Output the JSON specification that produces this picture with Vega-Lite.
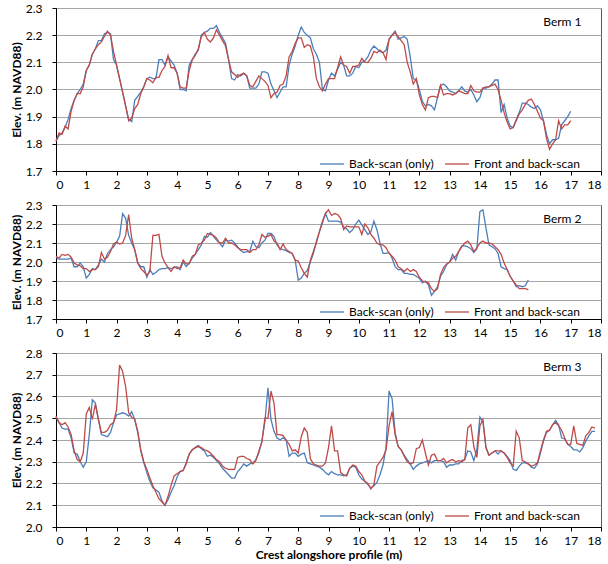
{
"$schema": "https://vega.github.io/schema/vega-lite/v6.json",
"padding": {"left": 9, "top": 1, "right": 0, "bottom": 0},
"background": "white",
"config": {
  "font": "Lato",
  "view": {"stroke": "#595959", "strokeWidth": 1},
  "axis": {"labelFont": "Lato", "labelFontSize": 12, "labelColor": "#000", "titleFont": "Lato", "titleFontSize": 12, "titleFontWeight": "bold", "titleColor": "#000", "domainColor": "#000", "tickColor": "#000", "tickSize": 4, "gridColor": "#a6a6a6", "gridWidth": 1},
  "axisX": {"grid": false, "labelPadding": 4, "titlePadding": 3},
  "axisY": {"labelPadding": 10, "titlePadding": 2},
  "legend": {"orient": "none", "direction": "horizontal", "title": null, "symbolType": "stroke", "symbolSize": 576, "symbolStrokeWidth": 1.5, "labelFont": "Lato", "labelFontSize": 12, "labelColor": "#000", "columnPadding": 8, "labelOffset": 4},
  "title": {"anchor": "end", "font": "Lato", "fontSize": 12, "fontWeight": 400, "color": "#000", "offset": -27, "dx": -20},
  "line": {"strokeWidth": 1.3}
},
"datasets": {
"b1": [{"x":0,"y":1.81},{"x":0.1,"y":1.83},{"x":0.2,"y":1.84},{"x":0.3,"y":1.86},{"x":0.4,"y":1.89},{"x":0.5,"y":1.93},{"x":0.6,"y":1.96},{"x":0.7,"y":1.985},{"x":0.8,"y":2.0},{"x":0.9,"y":2.02},{"x":1.0,"y":2.07},{"x":1.1,"y":2.09},{"x":1.2,"y":2.13},{"x":1.3,"y":2.15},{"x":1.4,"y":2.18},{"x":1.5,"y":2.18},{"x":1.6,"y":2.205},{"x":1.7,"y":2.21},{"x":1.8,"y":2.205},{"x":1.9,"y":2.11},{"x":2.0,"y":2.09},{"x":2.1,"y":2.04},{"x":2.2,"y":1.99},{"x":2.3,"y":1.94},{"x":2.4,"y":1.89},{"x":2.5,"y":1.882},{"x":2.6,"y":1.96},{"x":2.7,"y":1.975},{"x":2.8,"y":1.99},{"x":2.9,"y":2.01},{"x":3.0,"y":2.04},{"x":3.1,"y":2.045},{"x":3.2,"y":2.04},{"x":3.3,"y":2.04},{"x":3.4,"y":2.11},{"x":3.5,"y":2.11},{"x":3.6,"y":2.09},{"x":3.7,"y":2.12},{"x":3.8,"y":2.105},{"x":3.9,"y":2.09},{"x":4.0,"y":2.06},{"x":4.1,"y":2.0},{"x":4.2,"y":2.0},{"x":4.3,"y":1.995},{"x":4.4,"y":2.09},{"x":4.5,"y":2.11},{"x":4.6,"y":2.13},{"x":4.7,"y":2.145},{"x":4.8,"y":2.2},{"x":4.9,"y":2.21},{"x":5.0,"y":2.215},{"x":5.1,"y":2.225},{"x":5.2,"y":2.225},{"x":5.3,"y":2.235},{"x":5.4,"y":2.21},{"x":5.5,"y":2.19},{"x":5.6,"y":2.17},{"x":5.7,"y":2.11},{"x":5.8,"y":2.04},{"x":5.9,"y":2.035},{"x":6.0,"y":2.055},{"x":6.1,"y":2.05},{"x":6.2,"y":2.06},{"x":6.3,"y":2.05},{"x":6.4,"y":2.005},{"x":6.5,"y":2.005},{"x":6.6,"y":2.005},{"x":6.7,"y":2.02},{"x":6.8,"y":2.065},{"x":6.9,"y":2.065},{"x":7.0,"y":2.06},{"x":7.1,"y":2.02},{"x":7.2,"y":1.995},{"x":7.3,"y":1.97},{"x":7.4,"y":1.99},{"x":7.5,"y":2.01},{"x":7.6,"y":2.01},{"x":7.7,"y":2.09},{"x":7.8,"y":2.13},{"x":7.9,"y":2.16},{"x":8.0,"y":2.2},{"x":8.1,"y":2.23},{"x":8.2,"y":2.21},{"x":8.3,"y":2.2},{"x":8.4,"y":2.19},{"x":8.5,"y":2.15},{"x":8.6,"y":2.13},{"x":8.7,"y":2.1},{"x":8.8,"y":2.0},{"x":8.9,"y":1.995},{"x":9.0,"y":2.035},{"x":9.1,"y":2.06},{"x":9.2,"y":2.05},{"x":9.3,"y":2.075},{"x":9.4,"y":2.1},{"x":9.5,"y":2.09},{"x":9.6,"y":2.05},{"x":9.7,"y":2.05},{"x":9.8,"y":2.06},{"x":9.9,"y":2.085},{"x":10.0,"y":2.08},{"x":10.1,"y":2.1},{"x":10.2,"y":2.105},{"x":10.3,"y":2.12},{"x":10.4,"y":2.145},{"x":10.5,"y":2.16},{"x":10.6,"y":2.15},{"x":10.7,"y":2.14},{"x":10.8,"y":2.135},{"x":10.9,"y":2.145},{"x":11.0,"y":2.185},{"x":11.1,"y":2.2},{"x":11.2,"y":2.215},{"x":11.3,"y":2.185},{"x":11.4,"y":2.19},{"x":11.5,"y":2.195},{"x":11.6,"y":2.185},{"x":11.7,"y":2.12},{"x":11.8,"y":2.04},{"x":11.9,"y":2.035},{"x":12.0,"y":2.0},{"x":12.1,"y":1.955},{"x":12.2,"y":1.94},{"x":12.3,"y":1.945},{"x":12.4,"y":1.94},{"x":12.5,"y":1.925},{"x":12.6,"y":1.97},{"x":12.7,"y":2.015},{"x":12.8,"y":2.02},{"x":12.9,"y":2.01},{"x":13.0,"y":1.995},{"x":13.1,"y":1.99},{"x":13.2,"y":1.985},{"x":13.3,"y":1.995},{"x":13.4,"y":2.01},{"x":13.5,"y":1.995},{"x":13.6,"y":1.99},{"x":13.7,"y":2.0},{"x":13.8,"y":1.98},{"x":13.9,"y":1.955},{"x":14.0,"y":1.97},{"x":14.1,"y":2.005},{"x":14.2,"y":2.005},{"x":14.3,"y":2.01},{"x":14.4,"y":2.02},{"x":14.5,"y":2.035},{"x":14.6,"y":2.035},{"x":14.7,"y":1.915},{"x":14.8,"y":1.945},{"x":14.9,"y":1.895},{"x":15.0,"y":1.865},{"x":15.1,"y":1.86},{"x":15.2,"y":1.89},{"x":15.3,"y":1.915},{"x":15.4,"y":1.95},{"x":15.5,"y":1.95},{"x":15.6,"y":1.945},{"x":15.7,"y":1.935},{"x":15.8,"y":1.93},{"x":15.9,"y":1.94},{"x":16.0,"y":1.925},{"x":16.1,"y":1.885},{"x":16.2,"y":1.835},{"x":16.3,"y":1.8},{"x":16.4,"y":1.815},{"x":16.5,"y":1.815},{"x":16.6,"y":1.82},{"x":16.7,"y":1.87},{"x":16.8,"y":1.885},{"x":16.9,"y":1.9},{"x":17.0,"y":1.92}],
"f1": [{"x":0,"y":1.81},{"x":0.1,"y":1.84},{"x":0.2,"y":1.835},{"x":0.3,"y":1.865},{"x":0.4,"y":1.855},{"x":0.5,"y":1.92},{"x":0.6,"y":1.96},{"x":0.7,"y":1.985},{"x":0.8,"y":1.985},{"x":0.9,"y":2.01},{"x":1.0,"y":2.07},{"x":1.1,"y":2.09},{"x":1.2,"y":2.13},{"x":1.3,"y":2.15},{"x":1.4,"y":2.165},{"x":1.5,"y":2.175},{"x":1.6,"y":2.195},{"x":1.7,"y":2.215},{"x":1.8,"y":2.2},{"x":1.9,"y":2.14},{"x":2.0,"y":2.09},{"x":2.1,"y":2.04},{"x":2.2,"y":1.99},{"x":2.3,"y":1.94},{"x":2.4,"y":1.885},{"x":2.5,"y":1.895},{"x":2.6,"y":1.93},{"x":2.7,"y":1.945},{"x":2.8,"y":1.985},{"x":2.9,"y":2.01},{"x":3.0,"y":2.04},{"x":3.1,"y":2.035},{"x":3.2,"y":2.025},{"x":3.3,"y":2.045},{"x":3.4,"y":2.045},{"x":3.5,"y":2.07},{"x":3.6,"y":2.085},{"x":3.7,"y":2.125},{"x":3.8,"y":2.08},{"x":3.9,"y":2.08},{"x":4.0,"y":2.06},{"x":4.1,"y":2.01},{"x":4.2,"y":2.005},{"x":4.3,"y":2.005},{"x":4.4,"y":2.07},{"x":4.5,"y":2.11},{"x":4.6,"y":2.125},{"x":4.7,"y":2.15},{"x":4.8,"y":2.195},{"x":4.9,"y":2.21},{"x":5.0,"y":2.185},{"x":5.1,"y":2.175},{"x":5.2,"y":2.19},{"x":5.3,"y":2.22},{"x":5.4,"y":2.2},{"x":5.5,"y":2.18},{"x":5.6,"y":2.16},{"x":5.7,"y":2.11},{"x":5.8,"y":2.065},{"x":5.9,"y":2.055},{"x":6.0,"y":2.045},{"x":6.1,"y":2.055},{"x":6.2,"y":2.06},{"x":6.3,"y":2.05},{"x":6.4,"y":2.015},{"x":6.5,"y":2.01},{"x":6.6,"y":2.03},{"x":6.7,"y":2.05},{"x":6.8,"y":2.04},{"x":6.9,"y":2.03},{"x":7.0,"y":2.015},{"x":7.1,"y":1.97},{"x":7.2,"y":1.985},{"x":7.3,"y":1.99},{"x":7.4,"y":2.015},{"x":7.5,"y":2.02},{"x":7.6,"y":2.05},{"x":7.7,"y":2.12},{"x":7.8,"y":2.14},{"x":7.9,"y":2.17},{"x":8.0,"y":2.19},{"x":8.1,"y":2.19},{"x":8.2,"y":2.155},{"x":8.3,"y":2.165},{"x":8.4,"y":2.16},{"x":8.5,"y":2.12},{"x":8.6,"y":2.04},{"x":8.7,"y":2.01},{"x":8.8,"y":1.995},{"x":8.9,"y":2.02},{"x":9.0,"y":2.04},{"x":9.1,"y":2.04},{"x":9.2,"y":2.04},{"x":9.3,"y":2.08},{"x":9.4,"y":2.12},{"x":9.5,"y":2.09},{"x":9.6,"y":2.085},{"x":9.7,"y":2.06},{"x":9.8,"y":2.085},{"x":9.9,"y":2.085},{"x":10.0,"y":2.09},{"x":10.1,"y":2.115},{"x":10.2,"y":2.1},{"x":10.3,"y":2.1},{"x":10.4,"y":2.115},{"x":10.5,"y":2.14},{"x":10.6,"y":2.135},{"x":10.7,"y":2.145},{"x":10.8,"y":2.135},{"x":10.9,"y":2.11},{"x":11.0,"y":2.185},{"x":11.1,"y":2.2},{"x":11.2,"y":2.21},{"x":11.3,"y":2.195},{"x":11.4,"y":2.18},{"x":11.5,"y":2.165},{"x":11.6,"y":2.1},{"x":11.7,"y":2.065},{"x":11.8,"y":2.02},{"x":11.9,"y":2.04},{"x":12.0,"y":1.98},{"x":12.1,"y":1.945},{"x":12.2,"y":1.925},{"x":12.3,"y":1.97},{"x":12.4,"y":1.975},{"x":12.5,"y":1.975},{"x":12.6,"y":1.97},{"x":12.7,"y":2.015},{"x":12.8,"y":1.98},{"x":12.9,"y":1.985},{"x":13.0,"y":1.985},{"x":13.1,"y":1.98},{"x":13.2,"y":1.985},{"x":13.3,"y":1.995},{"x":13.4,"y":1.99},{"x":13.5,"y":1.985},{"x":13.6,"y":1.985},{"x":13.7,"y":2.015},{"x":13.8,"y":1.995},{"x":13.9,"y":1.99},{"x":14.0,"y":1.99},{"x":14.1,"y":2.005},{"x":14.2,"y":2.01},{"x":14.3,"y":2.01},{"x":14.4,"y":2.015},{"x":14.5,"y":2.02},{"x":14.6,"y":2.0},{"x":14.7,"y":1.96},{"x":14.8,"y":1.915},{"x":14.9,"y":1.88},{"x":15.0,"y":1.855},{"x":15.1,"y":1.86},{"x":15.2,"y":1.885},{"x":15.3,"y":1.91},{"x":15.4,"y":1.925},{"x":15.5,"y":1.945},{"x":15.6,"y":1.96},{"x":15.7,"y":1.965},{"x":15.8,"y":1.945},{"x":15.9,"y":1.92},{"x":16.0,"y":1.895},{"x":16.1,"y":1.885},{"x":16.2,"y":1.82},{"x":16.3,"y":1.78},{"x":16.4,"y":1.8},{"x":16.5,"y":1.815},{"x":16.6,"y":1.885},{"x":16.7,"y":1.855},{"x":16.8,"y":1.87},{"x":16.9,"y":1.87},{"x":17.0,"y":1.885}],
"b2": [{"x":0,"y":2.025},{"x":0.1,"y":2.015},{"x":0.2,"y":2.015},{"x":0.3,"y":2.015},{"x":0.4,"y":2.015},{"x":0.5,"y":2.02},{"x":0.6,"y":1.975},{"x":0.7,"y":1.975},{"x":0.8,"y":1.995},{"x":0.9,"y":1.975},{"x":1.0,"y":1.915},{"x":1.1,"y":1.935},{"x":1.2,"y":1.965},{"x":1.3,"y":1.96},{"x":1.4,"y":1.985},{"x":1.5,"y":2.015},{"x":1.6,"y":2.0},{"x":1.7,"y":2.045},{"x":1.8,"y":2.065},{"x":1.9,"y":2.08},{"x":2.0,"y":2.105},{"x":2.1,"y":2.135},{"x":2.2,"y":2.255},{"x":2.3,"y":2.23},{"x":2.4,"y":2.14},{"x":2.5,"y":2.1},{"x":2.6,"y":2.065},{"x":2.7,"y":1.995},{"x":2.8,"y":1.975},{"x":2.9,"y":1.975},{"x":3.0,"y":1.92},{"x":3.1,"y":1.96},{"x":3.2,"y":1.935},{"x":3.3,"y":1.945},{"x":3.4,"y":1.96},{"x":3.5,"y":1.965},{"x":3.6,"y":1.965},{"x":3.7,"y":1.97},{"x":3.8,"y":1.965},{"x":3.9,"y":1.97},{"x":4.0,"y":1.975},{"x":4.1,"y":1.96},{"x":4.2,"y":2.0},{"x":4.3,"y":1.975},{"x":4.4,"y":1.995},{"x":4.5,"y":2.02},{"x":4.6,"y":2.04},{"x":4.7,"y":2.065},{"x":4.8,"y":2.09},{"x":4.9,"y":2.135},{"x":5.0,"y":2.13},{"x":5.1,"y":2.155},{"x":5.2,"y":2.135},{"x":5.3,"y":2.115},{"x":5.4,"y":2.1},{"x":5.5,"y":2.08},{"x":5.6,"y":2.115},{"x":5.7,"y":2.11},{"x":5.8,"y":2.115},{"x":5.9,"y":2.1},{"x":6.0,"y":2.08},{"x":6.1,"y":2.06},{"x":6.2,"y":2.05},{"x":6.3,"y":2.055},{"x":6.4,"y":2.055},{"x":6.5,"y":2.11},{"x":6.6,"y":2.08},{"x":6.7,"y":2.075},{"x":6.8,"y":2.1},{"x":6.9,"y":2.115},{"x":7.0,"y":2.15},{"x":7.1,"y":2.15},{"x":7.2,"y":2.135},{"x":7.3,"y":2.09},{"x":7.4,"y":2.07},{"x":7.5,"y":2.065},{"x":7.6,"y":2.06},{"x":7.7,"y":2.05},{"x":7.8,"y":2.045},{"x":7.9,"y":2.01},{"x":8.0,"y":1.905},{"x":8.1,"y":1.915},{"x":8.2,"y":1.94},{"x":8.3,"y":1.955},{"x":8.4,"y":2.0},{"x":8.5,"y":2.045},{"x":8.6,"y":2.11},{"x":8.7,"y":2.16},{"x":8.8,"y":2.205},{"x":8.9,"y":2.255},{"x":9.0,"y":2.215},{"x":9.1,"y":2.215},{"x":9.2,"y":2.215},{"x":9.3,"y":2.215},{"x":9.4,"y":2.21},{"x":9.5,"y":2.185},{"x":9.6,"y":2.175},{"x":9.7,"y":2.155},{"x":9.8,"y":2.17},{"x":9.9,"y":2.2},{"x":10.0,"y":2.22},{"x":10.1,"y":2.195},{"x":10.2,"y":2.17},{"x":10.3,"y":2.145},{"x":10.4,"y":2.16},{"x":10.5,"y":2.215},{"x":10.6,"y":2.17},{"x":10.7,"y":2.1},{"x":10.8,"y":2.045},{"x":10.9,"y":2.045},{"x":11.0,"y":2.05},{"x":11.1,"y":2.02},{"x":11.2,"y":1.975},{"x":11.3,"y":1.96},{"x":11.4,"y":1.96},{"x":11.5,"y":1.94},{"x":11.6,"y":1.94},{"x":11.7,"y":1.935},{"x":11.8,"y":1.935},{"x":11.9,"y":1.925},{"x":12.0,"y":1.915},{"x":12.1,"y":1.89},{"x":12.2,"y":1.9},{"x":12.3,"y":1.88},{"x":12.4,"y":1.825},{"x":12.5,"y":1.845},{"x":12.6,"y":1.87},{"x":12.7,"y":1.925},{"x":12.8,"y":1.95},{"x":12.9,"y":1.985},{"x":13.0,"y":2.0},{"x":13.1,"y":2.04},{"x":13.2,"y":2.01},{"x":13.3,"y":2.055},{"x":13.4,"y":2.085},{"x":13.5,"y":2.085},{"x":13.6,"y":2.08},{"x":13.7,"y":2.07},{"x":13.8,"y":2.05},{"x":13.9,"y":2.07},{"x":14.0,"y":2.265},{"x":14.1,"y":2.275},{"x":14.2,"y":2.18},{"x":14.3,"y":2.09},{"x":14.4,"y":2.08},{"x":14.5,"y":2.07},{"x":14.6,"y":2.045},{"x":14.7,"y":1.975},{"x":14.8,"y":1.965},{"x":14.9,"y":1.96},{"x":15.0,"y":1.925},{"x":15.1,"y":1.9},{"x":15.2,"y":1.87},{"x":15.3,"y":1.875},{"x":15.4,"y":1.87},{"x":15.5,"y":1.875},{"x":15.6,"y":1.905}],
"f2": [{"x":0,"y":2.03},{"x":0.1,"y":2.02},{"x":0.2,"y":2.04},{"x":0.3,"y":2.035},{"x":0.4,"y":2.04},{"x":0.5,"y":2.025},{"x":0.6,"y":1.995},{"x":0.7,"y":1.985},{"x":0.8,"y":1.98},{"x":0.9,"y":1.965},{"x":1.0,"y":1.965},{"x":1.1,"y":1.95},{"x":1.2,"y":1.96},{"x":1.3,"y":1.96},{"x":1.4,"y":1.975},{"x":1.5,"y":2.05},{"x":1.6,"y":2.015},{"x":1.7,"y":2.025},{"x":1.8,"y":2.055},{"x":1.9,"y":2.095},{"x":2.0,"y":2.105},{"x":2.1,"y":2.095},{"x":2.2,"y":2.1},{"x":2.3,"y":2.14},{"x":2.4,"y":2.25},{"x":2.5,"y":2.125},{"x":2.6,"y":2.065},{"x":2.7,"y":1.995},{"x":2.8,"y":1.965},{"x":2.9,"y":1.95},{"x":3.0,"y":1.93},{"x":3.1,"y":1.95},{"x":3.2,"y":2.14},{"x":3.3,"y":2.14},{"x":3.4,"y":2.145},{"x":3.5,"y":2.03},{"x":3.6,"y":1.995},{"x":3.7,"y":1.97},{"x":3.8,"y":1.95},{"x":3.9,"y":1.975},{"x":4.0,"y":1.965},{"x":4.1,"y":1.97},{"x":4.2,"y":2.01},{"x":4.3,"y":1.99},{"x":4.4,"y":1.99},{"x":4.5,"y":2.03},{"x":4.6,"y":2.04},{"x":4.7,"y":2.09},{"x":4.8,"y":2.1},{"x":4.9,"y":2.115},{"x":5.0,"y":2.15},{"x":5.1,"y":2.145},{"x":5.2,"y":2.14},{"x":5.3,"y":2.125},{"x":5.4,"y":2.1},{"x":5.5,"y":2.1},{"x":5.6,"y":2.125},{"x":5.7,"y":2.1},{"x":5.8,"y":2.1},{"x":5.9,"y":2.09},{"x":6.0,"y":2.075},{"x":6.1,"y":2.065},{"x":6.2,"y":2.065},{"x":6.3,"y":2.065},{"x":6.4,"y":2.05},{"x":6.5,"y":2.065},{"x":6.6,"y":2.065},{"x":6.7,"y":2.09},{"x":6.8,"y":2.145},{"x":6.9,"y":2.13},{"x":7.0,"y":2.135},{"x":7.1,"y":2.145},{"x":7.2,"y":2.11},{"x":7.3,"y":2.1},{"x":7.4,"y":2.065},{"x":7.5,"y":2.095},{"x":7.6,"y":2.065},{"x":7.7,"y":2.055},{"x":7.8,"y":2.045},{"x":7.9,"y":2.01},{"x":8.0,"y":2.005},{"x":8.1,"y":1.97},{"x":8.2,"y":1.94},{"x":8.3,"y":1.92},{"x":8.4,"y":2.01},{"x":8.5,"y":2.055},{"x":8.6,"y":2.1},{"x":8.7,"y":2.16},{"x":8.8,"y":2.215},{"x":8.9,"y":2.255},{"x":9.0,"y":2.275},{"x":9.1,"y":2.245},{"x":9.2,"y":2.255},{"x":9.3,"y":2.25},{"x":9.4,"y":2.23},{"x":9.5,"y":2.17},{"x":9.6,"y":2.19},{"x":9.7,"y":2.185},{"x":9.8,"y":2.185},{"x":9.9,"y":2.185},{"x":10.0,"y":2.185},{"x":10.1,"y":2.145},{"x":10.2,"y":2.2},{"x":10.3,"y":2.18},{"x":10.4,"y":2.145},{"x":10.5,"y":2.125},{"x":10.6,"y":2.1},{"x":10.7,"y":2.09},{"x":10.8,"y":2.09},{"x":10.9,"y":2.075},{"x":11.0,"y":2.045},{"x":11.1,"y":2.03},{"x":11.2,"y":2.01},{"x":11.3,"y":1.975},{"x":11.4,"y":1.965},{"x":11.5,"y":1.95},{"x":11.6,"y":1.965},{"x":11.7,"y":1.95},{"x":11.8,"y":1.96},{"x":11.9,"y":1.95},{"x":12.0,"y":1.92},{"x":12.1,"y":1.9},{"x":12.2,"y":1.895},{"x":12.3,"y":1.89},{"x":12.4,"y":1.86},{"x":12.5,"y":1.845},{"x":12.6,"y":1.86},{"x":12.7,"y":1.935},{"x":12.8,"y":1.97},{"x":12.9,"y":1.99},{"x":13.0,"y":2.0},{"x":13.1,"y":2.02},{"x":13.2,"y":2.03},{"x":13.3,"y":2.055},{"x":13.4,"y":2.08},{"x":13.5,"y":2.1},{"x":13.6,"y":2.11},{"x":13.7,"y":2.09},{"x":13.8,"y":2.055},{"x":13.9,"y":2.075},{"x":14.0,"y":2.1},{"x":14.1,"y":2.11},{"x":14.2,"y":2.1},{"x":14.3,"y":2.1},{"x":14.4,"y":2.095},{"x":14.5,"y":2.08},{"x":14.6,"y":2.065},{"x":14.7,"y":2.04},{"x":14.8,"y":1.995},{"x":14.9,"y":1.96},{"x":15.0,"y":1.925},{"x":15.1,"y":1.9},{"x":15.2,"y":1.88},{"x":15.3,"y":1.86},{"x":15.4,"y":1.86},{"x":15.5,"y":1.86},{"x":15.6,"y":1.855}],
"b3": [{"x":0,"y":2.505},{"x":0.1,"y":2.48},{"x":0.2,"y":2.455},{"x":0.3,"y":2.45},{"x":0.4,"y":2.45},{"x":0.5,"y":2.41},{"x":0.6,"y":2.34},{"x":0.7,"y":2.335},{"x":0.8,"y":2.3},{"x":0.9,"y":2.275},{"x":1.0,"y":2.3},{"x":1.1,"y":2.425},{"x":1.2,"y":2.585},{"x":1.3,"y":2.57},{"x":1.4,"y":2.495},{"x":1.5,"y":2.425},{"x":1.6,"y":2.42},{"x":1.7,"y":2.415},{"x":1.8,"y":2.435},{"x":1.9,"y":2.48},{"x":2.0,"y":2.515},{"x":2.1,"y":2.52},{"x":2.2,"y":2.525},{"x":2.3,"y":2.52},{"x":2.4,"y":2.51},{"x":2.5,"y":2.53},{"x":2.6,"y":2.495},{"x":2.7,"y":2.435},{"x":2.8,"y":2.35},{"x":2.9,"y":2.295},{"x":3.0,"y":2.25},{"x":3.1,"y":2.21},{"x":3.2,"y":2.18},{"x":3.3,"y":2.17},{"x":3.4,"y":2.16},{"x":3.5,"y":2.12},{"x":3.6,"y":2.1},{"x":3.7,"y":2.125},{"x":3.8,"y":2.16},{"x":3.9,"y":2.19},{"x":4.0,"y":2.23},{"x":4.1,"y":2.255},{"x":4.2,"y":2.26},{"x":4.3,"y":2.295},{"x":4.4,"y":2.335},{"x":4.5,"y":2.355},{"x":4.6,"y":2.365},{"x":4.7,"y":2.375},{"x":4.8,"y":2.36},{"x":4.9,"y":2.35},{"x":5.0,"y":2.325},{"x":5.1,"y":2.33},{"x":5.2,"y":2.32},{"x":5.3,"y":2.305},{"x":5.4,"y":2.29},{"x":5.5,"y":2.27},{"x":5.6,"y":2.255},{"x":5.7,"y":2.24},{"x":5.8,"y":2.225},{"x":5.9,"y":2.225},{"x":6.0,"y":2.255},{"x":6.1,"y":2.27},{"x":6.2,"y":2.29},{"x":6.3,"y":2.28},{"x":6.4,"y":2.29},{"x":6.5,"y":2.295},{"x":6.6,"y":2.31},{"x":6.7,"y":2.34},{"x":6.8,"y":2.395},{"x":6.9,"y":2.485},{"x":7.0,"y":2.64},{"x":7.1,"y":2.495},{"x":7.2,"y":2.44},{"x":7.3,"y":2.41},{"x":7.4,"y":2.4},{"x":7.5,"y":2.41},{"x":7.6,"y":2.4},{"x":7.7,"y":2.325},{"x":7.8,"y":2.34},{"x":7.9,"y":2.34},{"x":8.0,"y":2.325},{"x":8.1,"y":2.335},{"x":8.2,"y":2.34},{"x":8.3,"y":2.295},{"x":8.4,"y":2.29},{"x":8.5,"y":2.285},{"x":8.6,"y":2.28},{"x":8.7,"y":2.275},{"x":8.8,"y":2.265},{"x":8.9,"y":2.25},{"x":9.0,"y":2.24},{"x":9.1,"y":2.255},{"x":9.2,"y":2.245},{"x":9.3,"y":2.24},{"x":9.4,"y":2.24},{"x":9.5,"y":2.235},{"x":9.6,"y":2.24},{"x":9.7,"y":2.27},{"x":9.8,"y":2.28},{"x":9.9,"y":2.275},{"x":10.0,"y":2.24},{"x":10.1,"y":2.22},{"x":10.2,"y":2.21},{"x":10.3,"y":2.195},{"x":10.4,"y":2.18},{"x":10.5,"y":2.19},{"x":10.6,"y":2.205},{"x":10.7,"y":2.24},{"x":10.8,"y":2.285},{"x":10.9,"y":2.365},{"x":11.0,"y":2.625},{"x":11.1,"y":2.59},{"x":11.2,"y":2.435},{"x":11.3,"y":2.37},{"x":11.4,"y":2.355},{"x":11.5,"y":2.33},{"x":11.6,"y":2.31},{"x":11.7,"y":2.29},{"x":11.8,"y":2.265},{"x":11.9,"y":2.28},{"x":12.0,"y":2.29},{"x":12.1,"y":2.295},{"x":12.2,"y":2.3},{"x":12.3,"y":2.305},{"x":12.4,"y":2.295},{"x":12.5,"y":2.305},{"x":12.6,"y":2.305},{"x":12.7,"y":2.305},{"x":12.8,"y":2.3},{"x":12.9,"y":2.275},{"x":13.0,"y":2.285},{"x":13.1,"y":2.285},{"x":13.2,"y":2.29},{"x":13.3,"y":2.29},{"x":13.4,"y":2.305},{"x":13.5,"y":2.31},{"x":13.6,"y":2.35},{"x":13.7,"y":2.345},{"x":13.8,"y":2.305},{"x":13.9,"y":2.355},{"x":14.0,"y":2.505},{"x":14.1,"y":2.485},{"x":14.2,"y":2.365},{"x":14.3,"y":2.33},{"x":14.4,"y":2.34},{"x":14.5,"y":2.35},{"x":14.6,"y":2.335},{"x":14.7,"y":2.35},{"x":14.8,"y":2.34},{"x":14.9,"y":2.325},{"x":15.0,"y":2.305},{"x":15.1,"y":2.265},{"x":15.2,"y":2.26},{"x":15.3,"y":2.28},{"x":15.4,"y":2.295},{"x":15.5,"y":2.295},{"x":15.6,"y":2.29},{"x":15.7,"y":2.275},{"x":15.8,"y":2.27},{"x":15.9,"y":2.29},{"x":16.0,"y":2.34},{"x":16.1,"y":2.395},{"x":16.2,"y":2.435},{"x":16.3,"y":2.445},{"x":16.4,"y":2.47},{"x":16.5,"y":2.49},{"x":16.6,"y":2.47},{"x":16.7,"y":2.41},{"x":16.8,"y":2.405},{"x":16.9,"y":2.38},{"x":17.0,"y":2.37},{"x":17.1,"y":2.355},{"x":17.2,"y":2.355},{"x":17.3,"y":2.345},{"x":17.4,"y":2.365},{"x":17.5,"y":2.395},{"x":17.6,"y":2.42},{"x":17.7,"y":2.44},{"x":17.8,"y":2.44}],
"f3": [{"x":0,"y":2.51},{"x":0.1,"y":2.48},{"x":0.2,"y":2.47},{"x":0.3,"y":2.48},{"x":0.4,"y":2.46},{"x":0.5,"y":2.425},{"x":0.6,"y":2.35},{"x":0.7,"y":2.31},{"x":0.8,"y":2.3},{"x":0.9,"y":2.34},{"x":1.0,"y":2.52},{"x":1.1,"y":2.55},{"x":1.2,"y":2.495},{"x":1.3,"y":2.565},{"x":1.4,"y":2.495},{"x":1.5,"y":2.435},{"x":1.6,"y":2.435},{"x":1.7,"y":2.445},{"x":1.8,"y":2.47},{"x":1.9,"y":2.48},{"x":2.0,"y":2.54},{"x":2.1,"y":2.745},{"x":2.2,"y":2.715},{"x":2.3,"y":2.645},{"x":2.4,"y":2.525},{"x":2.5,"y":2.505},{"x":2.6,"y":2.495},{"x":2.7,"y":2.44},{"x":2.8,"y":2.355},{"x":2.9,"y":2.3},{"x":3.0,"y":2.265},{"x":3.1,"y":2.225},{"x":3.2,"y":2.19},{"x":3.3,"y":2.16},{"x":3.4,"y":2.13},{"x":3.5,"y":2.115},{"x":3.6,"y":2.1},{"x":3.7,"y":2.14},{"x":3.8,"y":2.19},{"x":3.9,"y":2.235},{"x":4.0,"y":2.245},{"x":4.1,"y":2.255},{"x":4.2,"y":2.26},{"x":4.3,"y":2.29},{"x":4.4,"y":2.335},{"x":4.5,"y":2.355},{"x":4.6,"y":2.365},{"x":4.7,"y":2.37},{"x":4.8,"y":2.365},{"x":4.9,"y":2.355},{"x":5.0,"y":2.35},{"x":5.1,"y":2.34},{"x":5.2,"y":2.325},{"x":5.3,"y":2.31},{"x":5.4,"y":2.3},{"x":5.5,"y":2.28},{"x":5.6,"y":2.27},{"x":5.7,"y":2.265},{"x":5.8,"y":2.265},{"x":5.9,"y":2.265},{"x":6.0,"y":2.32},{"x":6.1,"y":2.325},{"x":6.2,"y":2.325},{"x":6.3,"y":2.315},{"x":6.4,"y":2.31},{"x":6.5,"y":2.29},{"x":6.6,"y":2.305},{"x":6.7,"y":2.35},{"x":6.8,"y":2.39},{"x":6.9,"y":2.5},{"x":7.0,"y":2.5},{"x":7.1,"y":2.625},{"x":7.2,"y":2.57},{"x":7.3,"y":2.425},{"x":7.4,"y":2.425},{"x":7.5,"y":2.42},{"x":7.6,"y":2.4},{"x":7.7,"y":2.38},{"x":7.8,"y":2.35},{"x":7.9,"y":2.355},{"x":8.0,"y":2.34},{"x":8.1,"y":2.415},{"x":8.2,"y":2.455},{"x":8.3,"y":2.435},{"x":8.4,"y":2.315},{"x":8.5,"y":2.29},{"x":8.6,"y":2.285},{"x":8.7,"y":2.28},{"x":8.8,"y":2.28},{"x":8.9,"y":2.295},{"x":9.0,"y":2.365},{"x":9.1,"y":2.465},{"x":9.2,"y":2.35},{"x":9.3,"y":2.35},{"x":9.4,"y":2.25},{"x":9.5,"y":2.24},{"x":9.6,"y":2.235},{"x":9.7,"y":2.27},{"x":9.8,"y":2.285},{"x":9.9,"y":2.28},{"x":10.0,"y":2.255},{"x":10.1,"y":2.24},{"x":10.2,"y":2.21},{"x":10.3,"y":2.2},{"x":10.4,"y":2.175},{"x":10.5,"y":2.195},{"x":10.6,"y":2.28},{"x":10.7,"y":2.3},{"x":10.8,"y":2.32},{"x":10.9,"y":2.355},{"x":11.0,"y":2.465},{"x":11.1,"y":2.53},{"x":11.2,"y":2.425},{"x":11.3,"y":2.37},{"x":11.4,"y":2.355},{"x":11.5,"y":2.325},{"x":11.6,"y":2.3},{"x":11.7,"y":2.29},{"x":11.8,"y":2.295},{"x":11.9,"y":2.36},{"x":12.0,"y":2.365},{"x":12.1,"y":2.4},{"x":12.2,"y":2.34},{"x":12.3,"y":2.285},{"x":12.4,"y":2.33},{"x":12.5,"y":2.335},{"x":12.6,"y":2.305},{"x":12.7,"y":2.305},{"x":12.8,"y":2.315},{"x":12.9,"y":2.295},{"x":13.0,"y":2.305},{"x":13.1,"y":2.31},{"x":13.2,"y":2.3},{"x":13.3,"y":2.305},{"x":13.4,"y":2.3},{"x":13.5,"y":2.31},{"x":13.6,"y":2.455},{"x":13.7,"y":2.47},{"x":13.8,"y":2.37},{"x":13.9,"y":2.32},{"x":14.0,"y":2.465},{"x":14.1,"y":2.495},{"x":14.2,"y":2.365},{"x":14.3,"y":2.33},{"x":14.4,"y":2.34},{"x":14.5,"y":2.35},{"x":14.6,"y":2.35},{"x":14.7,"y":2.35},{"x":14.8,"y":2.34},{"x":14.9,"y":2.32},{"x":15.0,"y":2.295},{"x":15.1,"y":2.28},{"x":15.2,"y":2.44},{"x":15.3,"y":2.41},{"x":15.4,"y":2.305},{"x":15.5,"y":2.3},{"x":15.6,"y":2.29},{"x":15.7,"y":2.28},{"x":15.8,"y":2.285},{"x":15.9,"y":2.295},{"x":16.0,"y":2.35},{"x":16.1,"y":2.4},{"x":16.2,"y":2.44},{"x":16.3,"y":2.445},{"x":16.4,"y":2.47},{"x":16.5,"y":2.48},{"x":16.6,"y":2.465},{"x":16.7,"y":2.445},{"x":16.8,"y":2.41},{"x":16.9,"y":2.38},{"x":17.0,"y":2.38},{"x":17.1,"y":2.465},{"x":17.2,"y":2.385},{"x":17.3,"y":2.38},{"x":17.4,"y":2.375},{"x":17.5,"y":2.42},{"x":17.6,"y":2.435},{"x":17.7,"y":2.46},{"x":17.8,"y":2.455}]
},
"spacing": 7,
"resolve": {"scale": {"color": "independent"}, "legend": {"color": "independent"}},
"vconcat": [
 {
  "width": 545, "height": 163,
  "title": {"text": "Berm 1"},
  "encoding": {
    "x": {"field": "x", "type": "quantitative", "scale": {"domain": [0, 18], "nice": false}, "axis": {"values": [0,1,2,3,4,5,6,7,8,9,10,11,12,13,14,15,16,17,18], "format": "d", "title": null}},
    "y": {"field": "y", "type": "quantitative", "scale": {"domain": [1.7, 2.3], "nice": false, "zero": false}, "axis": {"values": [1.7,1.8,1.9,2.0,2.1,2.2,2.3], "format": ".1f", "title": "Elev. (m NAVD88)"}}
  },
  "layer": [
    {"data": {"name": "b1"}, "mark": "line", "encoding": {"color": {"datum": "Back-scan (only)", "scale": {"domain": ["Back-scan (only)", "Front and back-scan"], "range": ["#4a7ebb", "#be4b48"]}, "legend": {"legendX": 263, "legendY": 143}}}},
    {"data": {"name": "f1"}, "mark": "line", "encoding": {"color": {"datum": "Front and back-scan"}}}
  ]
 },
 {
  "width": 545, "height": 114,
  "title": {"text": "Berm 2"},
  "encoding": {
    "x": {"field": "x", "type": "quantitative", "scale": {"domain": [0, 18], "nice": false}, "axis": {"values": [0,1,2,3,4,5,6,7,8,9,10,11,12,13,14,15,16,17,18], "format": "d", "title": null}},
    "y": {"field": "y", "type": "quantitative", "scale": {"domain": [1.7, 2.3], "nice": false, "zero": false}, "axis": {"values": [1.7,1.8,1.9,2.0,2.1,2.2,2.3], "format": ".1f", "title": "Elev. (m NAVD88)"}}
  },
  "layer": [
    {"data": {"name": "b2"}, "mark": "line", "encoding": {"color": {"datum": "Back-scan (only)", "scale": {"domain": ["Back-scan (only)", "Front and back-scan"], "range": ["#4a7ebb", "#be4b48"]}, "legend": {"legendX": 263, "legendY": 94}}}},
    {"data": {"name": "f2"}, "mark": "line", "encoding": {"color": {"datum": "Front and back-scan"}}}
  ]
 },
 {
  "width": 545, "height": 174,
  "title": {"text": "Berm 3"},
  "encoding": {
    "x": {"field": "x", "type": "quantitative", "scale": {"domain": [0, 18], "nice": false}, "axis": {"values": [0,1,2,3,4,5,6,7,8,9,10,11,12,13,14,15,16,17,18], "format": "d", "title": "Crest alongshore profile (m)"}},
    "y": {"field": "y", "type": "quantitative", "scale": {"domain": [2.0, 2.8], "nice": false, "zero": false}, "axis": {"values": [2.0,2.1,2.2,2.3,2.4,2.5,2.6,2.7,2.8], "format": ".1f", "title": "Elev. (m NAVD88)"}}
  },
  "layer": [
    {"data": {"name": "b3"}, "mark": "line", "encoding": {"color": {"datum": "Back-scan (only)", "scale": {"domain": ["Back-scan (only)", "Front and back-scan"], "range": ["#4a7ebb", "#be4b48"]}, "legend": {"legendX": 263, "legendY": 150}}}},
    {"data": {"name": "f3"}, "mark": "line", "encoding": {"color": {"datum": "Front and back-scan"}}}
  ]
 }
]
}
